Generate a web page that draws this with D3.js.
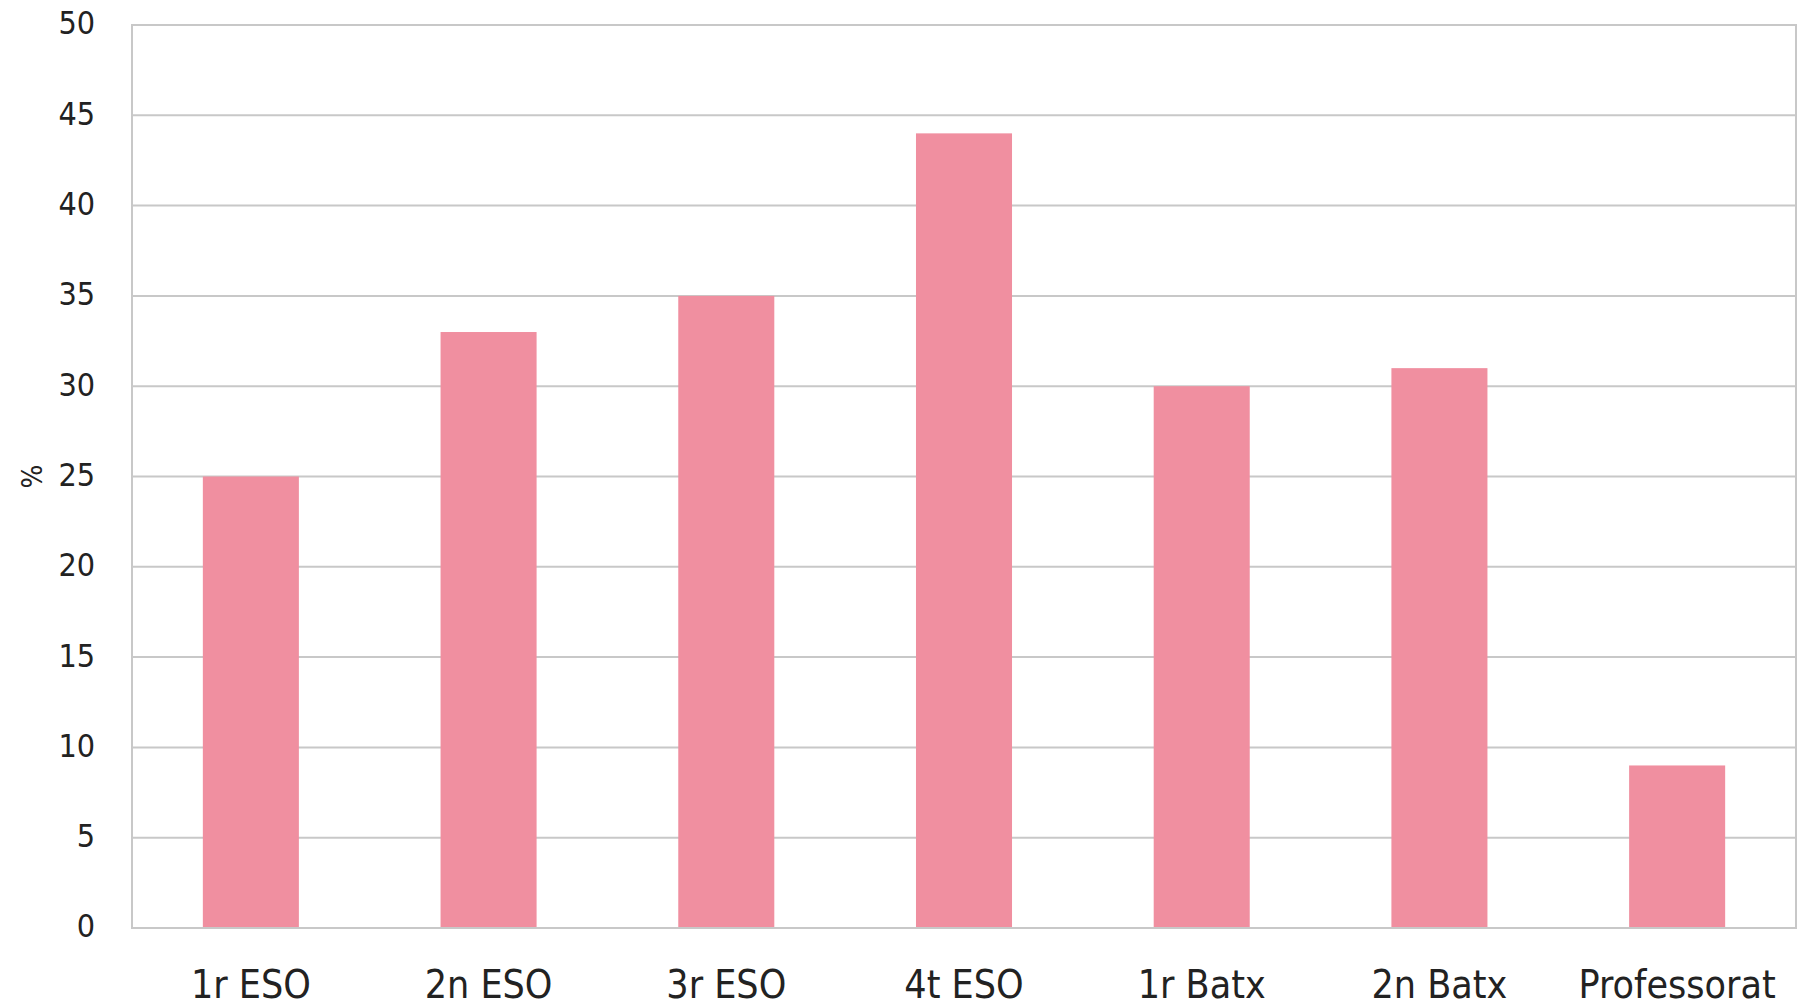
<!DOCTYPE html>
<html>
<head>
<meta charset="utf-8">
<script src="https://cdn.jsdelivr.net/npm/d3@7"></script>
<style>
    body { margin: 0; background: #fff; }
    text { font-family: "DejaVu Sans Condensed", "DejaVu Sans", sans-serif; font-stretch: condensed; fill: #222; }
</style>
</head>
<body>
<div id="draw"></div>
<script>
let categories = ['1r ESO', '2n ESO', '3r ESO', '4t ESO', '1r Batx', '2n Batx', 'Professorat'];
let values = [25, 33, 35, 44, 30, 31, 9];
let yTicks = [0, 5, 10, 15, 20, 25, 30, 35, 40, 45, 50];

let width = 1798,
    height = 1007,
    margin = { top: 25, left: 132, bottom: 79, right: 2 };

let innerW = width - margin.left - margin.right,
    innerH = height - margin.top - margin.bottom;

let svg = d3.select('#draw')
    .append('svg')
    .attr('width', width)
    .attr('height', height);

let g = svg.append('g')
    .attr('transform', 'translate(' + margin.left + ',' + margin.top + ')');

let xScale = d3.scaleBand().domain(categories).range([0, innerW]).paddingInner(0.596).paddingOuter(0.298),
    yScale = d3.scaleLinear().domain([0, 50]).range([innerH, 0]);

// grid lines
g.append('g')
    .selectAll('line')
    .data(yTicks)
    .enter()
    .append('line')
    .attr('x1', 0)
    .attr('x2', innerW)
    .attr('y1', d => yScale(d))
    .attr('y2', d => yScale(d))
    .attr('stroke', '#c8c8c8')
    .attr('stroke-width', 2);

// plot frame
g.append('rect')
    .attr('x', 0)
    .attr('y', 0)
    .attr('width', innerW)
    .attr('height', innerH)
    .attr('fill', 'none')
    .attr('stroke', '#c8c8c8')
    .attr('stroke-width', 2);

// bars
g.append('g')
    .selectAll('rect')
    .data(values)
    .enter()
    .append('rect')
    .attr('x', (d, i) => xScale(categories[i]))
    .attr('y', d => yScale(d))
    .attr('width', xScale.bandwidth())
    .attr('height', d => innerH - yScale(d) - 1)
    .attr('fill', '#f08fa0');

// y axis labels
let yAxis = g.append('g')
    .call(d3.axisLeft(yScale).tickValues(yTicks).tickSize(0).tickPadding(37));
yAxis.select('.domain').remove();
yAxis.selectAll('text')
    .style('font-size', '32px')
    .attr('dy', '0.28em');

// x axis labels
let xAxis = g.append('g')
    .attr('transform', 'translate(0,' + innerH + ')')
    .call(d3.axisBottom(xScale).tickSize(0).tickPadding(0));
xAxis.select('.domain').remove();
xAxis.selectAll('text')
    .style('font-size', '39px')
    .attr('y', 70)
    .attr('dy', 0);

svg.append('text')
    .attr('transform', 'translate(42,' + (margin.top + innerH / 2) + ') rotate(-90)')
    .style('text-anchor', 'middle')
    .style('font-size', '28px')
    .text('%');
</script>
</body>
</html>
